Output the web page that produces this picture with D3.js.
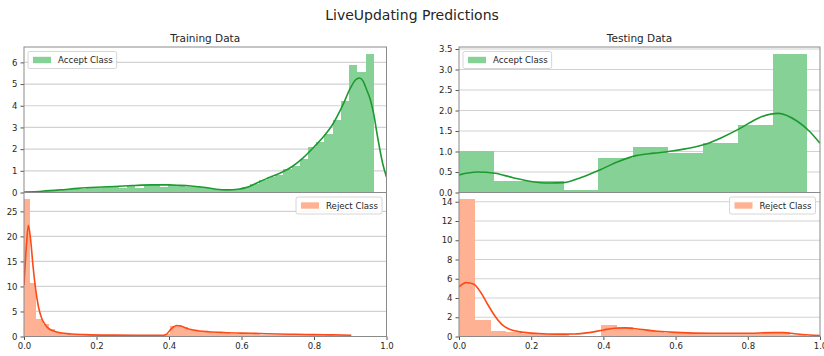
<!DOCTYPE html>
<html>
<head>
<meta charset="utf-8">
<script src="https://cdn.jsdelivr.net/npm/d3@7"></script>
<style>
  html, body { margin: 0; padding: 0; background: #fff; }
  svg { display: block; font-family: "DejaVu Sans", sans-serif; }
</style>
</head>
<body>
<svg id="chart" width="824" height="356"></svg>
<script>
// ---- Training data: histogram densities and KDE curves ----
const trainAcceptBinStart = 0.012;
const trainAcceptBinWidth = 0.02269;
const trainAcceptHist = [0.02, 0.04, 0.06, 0.09, 0.12, 0.15, 0.18, 0.21, 0.23, 0.25,
  0.27, 0.21, 0.30, 0.22, 0.33, 0.35, 0.26, 0.34, 0.28, 0.26,
  0.30, 0.25, 0.16, 0.12, 0.12, 0.17, 0.25, 0.40, 0.57, 0.72,
  0.79, 1.10, 1.21, 1.56, 2.10, 2.33, 2.68, 3.34, 4.22, 5.89, 5.55, 6.39];
const trainAcceptKdeX = [0.00, 0.05, 0.10, 0.15, 0.20, 0.25, 0.30, 0.35, 0.40, 0.43, 0.46, 0.50, 0.53, 0.56,
  0.59, 0.62, 0.65, 0.68, 0.71, 0.74, 0.77, 0.80, 0.83, 0.85, 0.88, 0.90, 0.915, 0.925, 0.935,
  0.945, 0.955, 0.965, 0.975, 0.99, 1.00];
const trainAcceptKdeY = [0.02, 0.06, 0.12, 0.19, 0.24, 0.28, 0.32, 0.35, 0.35, 0.33, 0.30, 0.23, 0.15, 0.12,
  0.15, 0.27, 0.50, 0.72, 0.92, 1.20, 1.60, 2.10, 2.65, 3.10, 4.05, 4.80, 5.20, 5.28, 5.15,
  4.75, 4.30, 3.60, 2.60, 1.30, 0.71];

const trainRejectBinStart = 0.001;
const trainRejectBinWidth = 0.0167;
const trainRejectHist = [27.4, 10.6, 3.5, 2.4, 1.5, 0.9, 0.6, 0.45, 0.35, 0.3,
  0.25, 0.25, 0.22, 0.2, 0.2, 0.2, 0.2, 0.18, 0.18, 0.18, 0.18, 0.15, 0.15,
  0.5, 2.0, 2.2, 1.8, 1.3, 1.1, 1.0,
  0.9, 0.75, 0.6, 0.6, 0.55, 0.5, 0.45, 0.4, 0.4, 0.35, 0.35, 0.3, 0.3, 0.3,
  0.25, 0.25, 0.25, 0.2, 0.2, 0.2, 0.2, 0.18, 0.18, 0.15];
const trainRejectKdeX = [0.000, 0.006, 0.012, 0.018, 0.025, 0.032, 0.040, 0.049, 0.060, 0.070, 0.080, 0.100,
  0.130, 0.170, 0.250, 0.330, 0.380, 0.392, 0.402, 0.412, 0.422, 0.432, 0.445, 0.460, 0.480,
  0.510, 0.550, 0.600, 0.650, 0.700, 0.750, 0.800, 0.850, 0.903];
const trainRejectKdeY = [10.3, 17.5, 22.2, 19.5, 14.0, 9.5, 5.9, 3.6, 2.2, 1.5, 1.15, 0.75,
  0.5, 0.38, 0.27, 0.22, 0.22, 0.4, 1.2, 1.9, 2.2, 2.1, 1.75, 1.4, 1.15,
  0.95, 0.8, 0.68, 0.6, 0.5, 0.44, 0.38, 0.32, 0.26];

// ---- Testing data ----
const testAcceptBinStart = 0;
const testAcceptBinWidth = 0.0965;
const testAcceptHist = [1.02, 0.27, 0.27, 0.065, 0.84, 1.10, 0.96, 1.20, 1.64, 3.38];
const testAcceptKdeX = [0.00, 0.05, 0.10, 0.15, 0.20, 0.25, 0.29, 0.34, 0.39, 0.44, 0.49, 0.54, 0.58,
  0.63, 0.68, 0.73, 0.78, 0.83, 0.885, 0.935, 0.97, 1.00];
const testAcceptKdeY = [0.43, 0.50, 0.47, 0.36, 0.27, 0.23, 0.24, 0.37, 0.55, 0.75, 0.90, 0.96, 1.00,
  1.07, 1.17, 1.35, 1.57, 1.82, 1.93, 1.75, 1.50, 1.20];

const testRejectBinStart = 0;
const testRejectBinWidth = 0.0437;
const testRejectHist = [14.25, 1.72, 0.62, 0.5, 0.3, 0.25, 0.2, 0.1, 0.05, 1.24, 0.96,
  0.7, 0.6, 0.4, 0.35, 0.3, 0.3, 0.3, 0.35, 0.35, 0.5, 0.15];
const testRejectKdeX = [0.00, 0.02, 0.04, 0.06, 0.08, 0.10, 0.12, 0.14, 0.17, 0.22, 0.27, 0.32, 0.36,
  0.40, 0.43, 0.46, 0.50, 0.55, 0.60, 0.70, 0.79, 0.87, 0.90, 0.93, 0.97, 1.00];
const testRejectKdeY = [5.15, 5.6, 5.45, 4.6, 3.3, 2.1, 1.2, 0.76, 0.48, 0.31, 0.25, 0.26, 0.4,
  0.68, 0.86, 0.90, 0.76, 0.55, 0.43, 0.34, 0.34, 0.40, 0.40, 0.28, 0.16, 0.10];

// ---- Tick labels ----
const xTicks = [0, 0.2, 0.4, 0.6, 0.8, 1.0];
const xTickLabels = ["0.0", "0.2", "0.4", "0.6", "0.8", "1.0"];
const trainAcceptTicks = [0, 1, 2, 3, 4, 5, 6];
const trainRejectTicks = [0, 5, 10, 15, 20, 25];
const testAcceptTicks = [0, 0.5, 1.0, 1.5, 2.0, 2.5, 3.0, 3.5];
const testRejectTicks = [0, 2, 4, 6, 8, 10, 12, 14];

const titles = ["Training Data", "Testing Data"];
const mainTitle = "LiveUpdating Predictions";
const acceptLabel = "Accept Class";
const rejectLabel = "Reject Class";

// ---- Styling ----
const GREEN_FILL = "#86d296", GREEN_LINE = "#1d9a2f";
const ORANGE_FILL = "#ffb293", ORANGE_LINE = "#ff4a16";
const TEXT = "#262626";

const svg = d3.select("#chart");
const cols = [{ x0: 24, x1: 386.5 }, { x0: 459, x1: 820 }];
const yTop = 47, yMid = 192.5, yBot = 336.5;

svg.append("text")
  .attr("x", 412).attr("y", 20)
  .attr("text-anchor", "middle")
  .attr("font-size", 14).attr("fill", TEXT)
  .text(mainTitle);

let clipId = 0;
function panel(col, top, bottom, cfg) {
  const x = d3.scaleLinear().domain([0, 1]).range([col.x0, col.x1]);
  const ymax = d3.max(cfg.hist) * 1.05;
  const y = d3.scaleLinear().domain([0, ymax]).range([bottom, top]);
  const g = svg.append("g");

  const id = "clip" + (clipId++);
  g.append("clipPath").attr("id", id)
    .append("rect").attr("x", col.x0).attr("y", top)
    .attr("width", col.x1 - col.x0).attr("height", bottom - top);

  // horizontal grid
  g.append("g").selectAll("line").data(cfg.ticks).join("line")
    .attr("x1", col.x0).attr("x2", col.x1)
    .attr("y1", d => y(d)).attr("y2", d => y(d))
    .attr("stroke", "#d2d2d2").attr("stroke-width", 1.2);

  // histogram bars (crisp edges so neighbouring bins join without seams)
  g.append("g").attr("clip-path", `url(#${id})`)
    .attr("shape-rendering", "crispEdges")
    .selectAll("rect").data(cfg.hist).join("rect")
    .attr("x", (d, i) => x(cfg.binStart + i * cfg.binWidth))
    .attr("width", (d, i) => x(cfg.binStart + (i + 1) * cfg.binWidth) - x(cfg.binStart + i * cfg.binWidth))
    .attr("y", d => y(d))
    .attr("height", d => y(0) - y(d))
    .attr("fill", cfg.fill);

  // density curve
  const pts = cfg.kdeX.map((v, i) => [v, cfg.kdeY[i]]);
  g.append("path").attr("clip-path", `url(#${id})`)
    .datum(pts)
    .attr("d", d3.line().x(d => x(d[0])).y(d => y(d[1])).curve(d3.curveMonotoneX))
    .attr("fill", "none").attr("stroke", cfg.line).attr("stroke-width", 1.6);

  // y axis
  const ya = g.append("g").attr("transform", `translate(${col.x0},0)`)
    .call(d3.axisLeft(y).tickValues(cfg.ticks).tickFormat(cfg.fmt).tickSize(3.5).tickPadding(3));
  ya.select(".domain").remove();
  ya.selectAll("line").attr("stroke", "#555");
  ya.selectAll("text").attr("font-size", 8.5).attr("fill", TEXT)
    .attr("font-family", "DejaVu Sans, sans-serif");

  if (cfg.xAxis) {
    const xa = g.append("g").attr("transform", `translate(0,${bottom})`)
      .call(d3.axisBottom(x).tickValues(xTicks).tickFormat((d, i) => xTickLabels[i]).tickSize(3.5).tickPadding(3));
    xa.select(".domain").remove();
    xa.selectAll("line").attr("stroke", "#555");
    xa.selectAll("text").attr("font-size", 8.5).attr("fill", TEXT)
      .attr("font-family", "DejaVu Sans, sans-serif");
  }

  // frame
  g.append("rect").attr("x", col.x0).attr("y", top)
    .attr("width", col.x1 - col.x0).attr("height", bottom - top)
    .attr("fill", "none").attr("stroke", "#8a8a8a").attr("stroke-width", 1);

  // legend
  const lg = g.append("g");
  const txt = lg.append("text").attr("font-size", 8.6).attr("fill", TEXT).text(cfg.label);
  const tw = txt.node().getComputedTextLength();
  const bw = 5 + 18 + 7 + tw + 4, bh = 17;
  const bx = cfg.legendRight ? col.x1 - 4.5 - bw : col.x0 + 4;
  const by = top + 4.5;
  lg.insert("rect", "text").attr("x", bx).attr("y", by).attr("width", bw).attr("height", bh)
    .attr("rx", 2).attr("fill", "#fff").attr("fill-opacity", 0.85)
    .attr("stroke", "#d6d6d6").attr("stroke-width", 1);
  lg.insert("rect", "text").attr("x", bx + 5).attr("y", by + bh / 2 - 3.2)
    .attr("width", 18).attr("height", 6.4).attr("fill", cfg.fill);
  txt.attr("x", bx + 30).attr("y", by + bh / 2 + 3.1);
}

const fmt0 = d => d3.format("d")(d);
const fmt1 = d => d3.format(".1f")(d);

panel(cols[0], yTop, yMid, { hist: trainAcceptHist, binStart: trainAcceptBinStart, binWidth: trainAcceptBinWidth,
  kdeX: trainAcceptKdeX, kdeY: trainAcceptKdeY, ticks: trainAcceptTicks, fmt: fmt0,
  fill: GREEN_FILL, line: GREEN_LINE, label: acceptLabel, legendRight: false, xAxis: false });
panel(cols[0], yMid, yBot, { hist: trainRejectHist, binStart: trainRejectBinStart, binWidth: trainRejectBinWidth,
  kdeX: trainRejectKdeX, kdeY: trainRejectKdeY, ticks: trainRejectTicks, fmt: fmt0,
  fill: ORANGE_FILL, line: ORANGE_LINE, label: rejectLabel, legendRight: true, xAxis: true });
panel(cols[1], yTop, yMid, { hist: testAcceptHist, binStart: testAcceptBinStart, binWidth: testAcceptBinWidth,
  kdeX: testAcceptKdeX, kdeY: testAcceptKdeY, ticks: testAcceptTicks, fmt: fmt1,
  fill: GREEN_FILL, line: GREEN_LINE, label: acceptLabel, legendRight: false, xAxis: false });
panel(cols[1], yMid, yBot, { hist: testRejectHist, binStart: testRejectBinStart, binWidth: testRejectBinWidth,
  kdeX: testRejectKdeX, kdeY: testRejectKdeY, ticks: testRejectTicks, fmt: fmt0,
  fill: ORANGE_FILL, line: ORANGE_LINE, label: rejectLabel, legendRight: true, xAxis: true });

// subplot titles
titles.forEach((t, i) => {
  svg.append("text")
    .attr("x", (cols[i].x0 + cols[i].x1) / 2).attr("y", 42)
    .attr("text-anchor", "middle")
    .attr("font-size", 10.5).attr("fill", TEXT)
    .text(t);
});
</script>
</body>
</html>
